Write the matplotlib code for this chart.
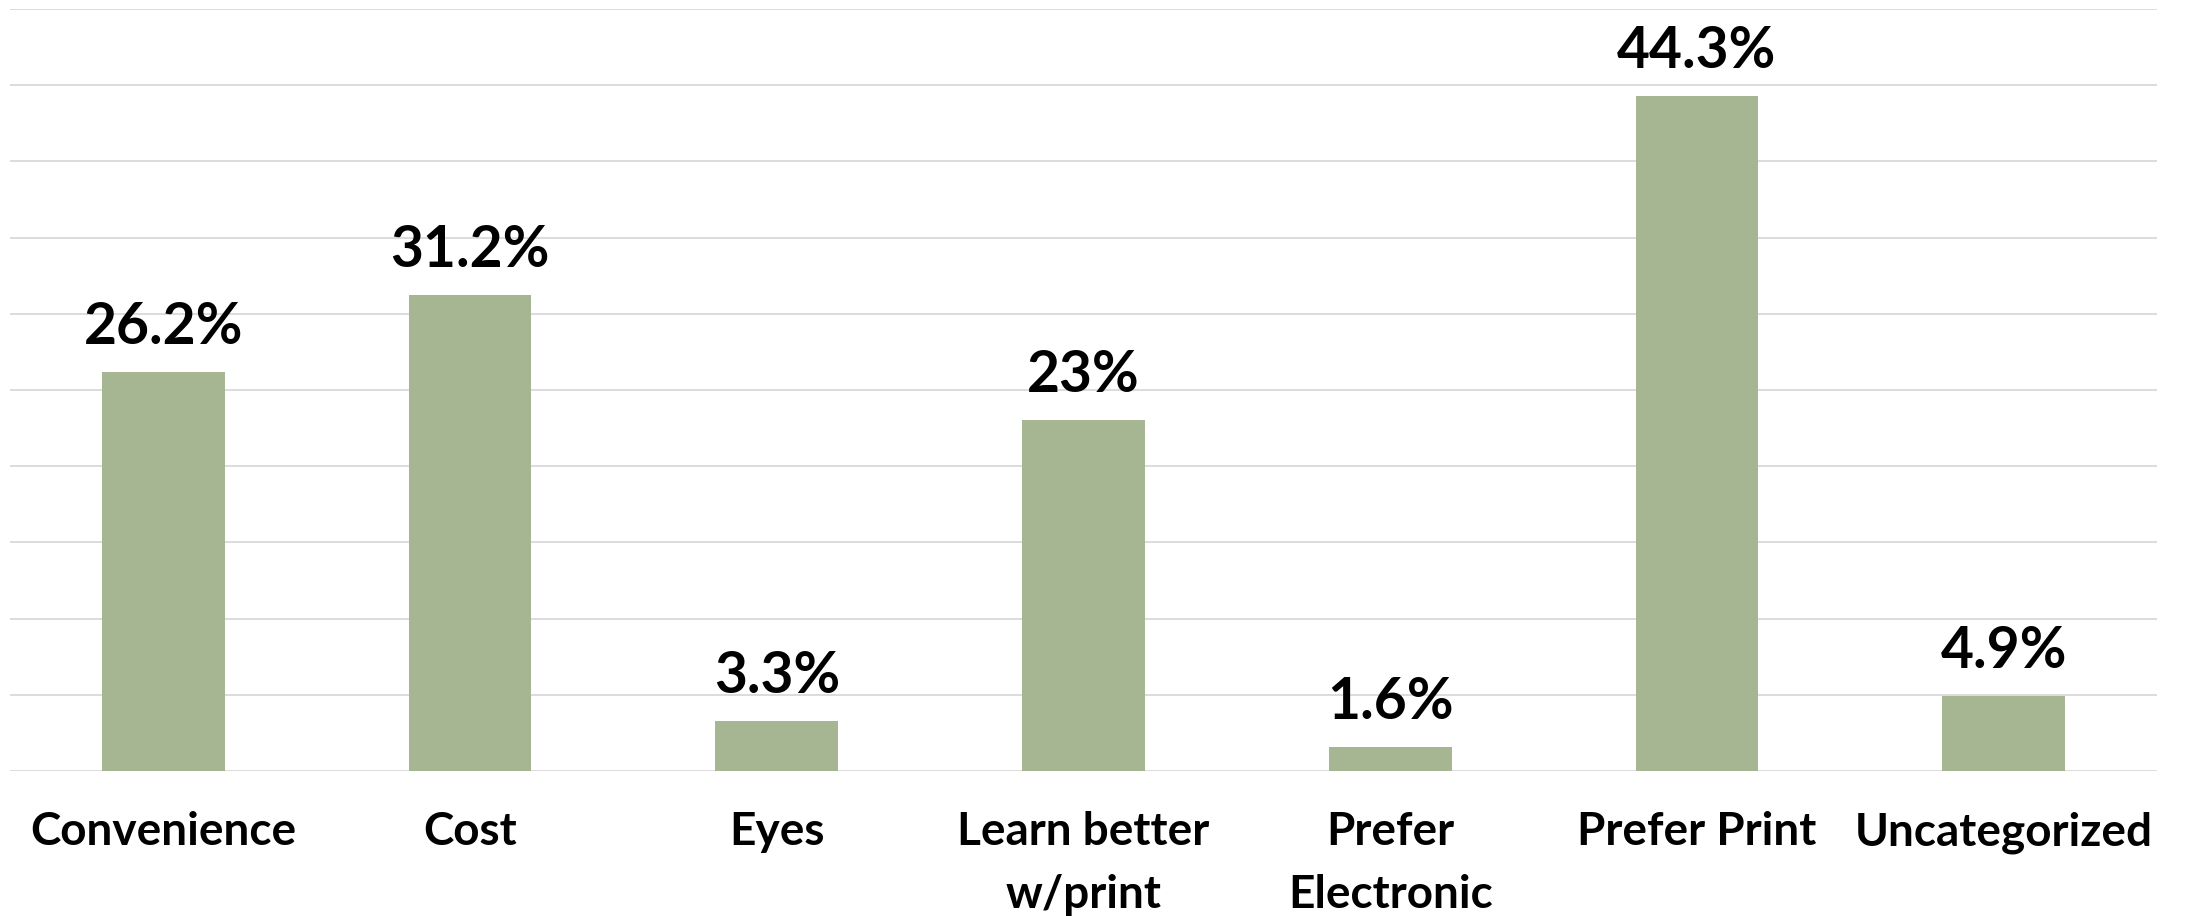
import numpy as np
import matplotlib.pyplot as plt

# survey reasons, share of responses (%)
categories = ['Convenience', 'Cost', 'Eyes', 'Learn better\nw/print',
              'Prefer\nElectronic', 'Prefer Print', 'Uncategorized']
shares = [26.2, 31.2, 3.3, 23.0, 1.6, 44.3, 4.9]
value_labels = ['26.2%', '31.2%', '3.3%', '23%', '1.6%', '44.3%', '4.9%']

bar_color = '#A6B592'
grid_color = '#D9D9D9'

plt.rcParams['font.family'] = ['Lato', 'DejaVu Sans']

fig = plt.figure(figsize=(21.85, 9.16), dpi=100)
ax = fig.add_axes([0.0046, 0.1583, 0.9826, 0.8319])

x = np.arange(len(categories))
ax.bar(x, shares, width=0.4, color=bar_color, zorder=2)

for xi, val, lab in zip(x, shares, value_labels):
    ax.annotate(lab, (xi, val), xytext=(0, 13), textcoords='offset points',
                ha='center', va='bottom', fontsize=41, fontweight='bold')

ax.set_xlim(-0.5, len(categories) - 0.5)
ax.set_ylim(0, 50)
ax.set_yticks(np.arange(0, 51, 5))
ax.set_yticklabels([])
ax.yaxis.grid(True, color=grid_color, linewidth=1.3, zorder=0)
ax.set_axisbelow(True)

ax.set_xticks(x)
ax.set_xticklabels(categories, fontsize=33, fontweight='bold',
                   linespacing=1.6, va='top')
ax.tick_params(axis='both', length=0)
ax.tick_params(axis='x', pad=29)

for side in ['top', 'right', 'left', 'bottom']:
    ax.spines[side].set_visible(False)

fig.savefig('out.png', dpi=100, facecolor='white')
